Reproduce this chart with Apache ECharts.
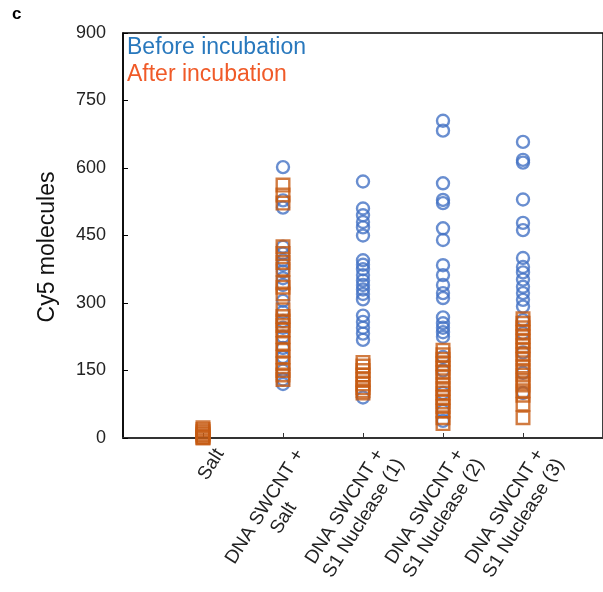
<!DOCTYPE html>
<html>
<head>
<meta charset="utf-8">
<script src="https://cdn.jsdelivr.net/npm/echarts@6/dist/echarts.min.js"></script>
<style>
  html, body { margin: 0; padding: 0; background: #fff; }
  #chart { width: 603px; height: 592px; }
</style>
</head>
<body>
<div id="chart"></div>
<script>
// 类别 (x = 1..5)
const categories = ['Salt', 'DNA SWCNT +\nSalt', 'DNA SWCNT +\nS1 Nuclease (1)', 'DNA SWCNT +\nS1 Nuclease (2)', 'DNA SWCNT +\nS1 Nuclease (3)'];
const yTicks = [0, 150, 300, 450, 600, 750, 900];

// Before incubation (蓝色圆圈)
const before1 = [];
const before2 = [602, 528, 512, 425, 410, 395, 385, 370, 355, 340, 305, 280, 260, 245, 225, 200, 180, 150, 130, 120];
const before3 = [570, 510, 495, 480, 468, 450, 395, 385, 375, 362, 350, 340, 330, 320, 308, 272, 258, 245, 232, 218, 90];
const before4 = [705, 683, 566, 529, 522, 466, 440, 384, 362, 340, 322, 311, 268, 255, 245, 235, 225, 180, 150, 100, 60, 38];
const before5 = [658, 618, 612, 530, 478, 462, 400, 380, 368, 352, 336, 322, 307, 292, 262, 233, 190, 145, 100];

// After incubation (橙色方块)
const after1 = [23, 19, 15, 11, 7, 4, 1, 0];
const after2 = [562, 540, 522, 425, 410, 390, 375, 345, 335, 320, 285, 270, 260, 250, 240, 225, 210, 195, 180, 165, 150, 140, 130];
const after3 = [168, 160, 150, 140, 130, 120, 112, 105, 100];
const after4 = [195, 185, 175, 165, 155, 145, 135, 120, 110, 100, 90, 80, 70, 60, 45, 32];
const after5 = [265, 255, 245, 235, 225, 215, 205, 195, 185, 175, 160, 150, 140, 128, 118, 105, 95, 75, 45];

const beforeAll = [before1, before2, before3, before4, before5];
const afterAll = [after1, after2, after3, after4, after5];

function toPoints(groups) {
    let pts = [];
    groups.forEach((arr, i) => {
        arr.forEach(v => pts.push([i + 1, v]));
    });
    return pts;
}

// 两行标签居中对齐
function xLabel(v) {
    let s = categories[v - 1];
    if (!s) return '';
    if (s.indexOf('\n') < 0) return s;
    return s.split('\n').map(t => '{a|' + t + '}').join('\n');
}

const myChart = echarts.init(document.getElementById('chart'));

const blue = '#4472c4';
const orange = '#c55a11';
const font = 'Liberation Sans, Arial, sans-serif';

myChart.setOption({
    animation: false,
    textStyle: { fontFamily: font },
    grid: {
        left: 123, top: 33, right: 0, bottom: 154,
        show: true, borderColor: '#000', borderWidth: 1.5
    },
    graphic: [
        { type: 'text', left: 12, top: 6, style: { text: 'c', font: 'bold 17px ' + font, fill: '#000' } },
        { type: 'text', left: 127, top: 36, style: { text: 'Before incubation', font: '23px ' + font, fill: '#2878bd' } },
        { type: 'text', left: 127, top: 63, style: { text: 'After incubation', font: '23px ' + font, fill: '#f05a28' } },
        {
            type: 'text', x: 48, y: 247, rotation: Math.PI / 2,
            style: { text: 'Cy5 molecules', font: '23px ' + font, fill: '#111', align: 'center', verticalAlign: 'middle' }
        }
    ],
    xAxis: {
        type: 'value',
        min: 0,
        max: 6,
        interval: 1,
        splitLine: { show: false },
        axisLine: { lineStyle: { color: '#333', width: 2 } },
        axisTick: { inside: true, length: 5, lineStyle: { color: '#333' }, customValues: [1, 2, 3, 4, 5] },
        axisLabel: {
            customValues: [1, 2, 3, 4, 5],
            formatter: xLabel,
            rotate: 58,
            fontSize: 19,
            color: '#222',
            lineHeight: 22,
            margin: 2,
            align: 'right',
            verticalAlign: 'top',
            padding: [9, 0, 0, 0],
            rich: {
                a: { width: 132, align: 'center', fontSize: 19, lineHeight: 22, color: '#222' }
            }
        }
    },
    yAxis: {
        type: 'value',
        min: yTicks[0],
        max: yTicks[yTicks.length - 1],
        interval: 150,
        splitLine: { show: false },
        axisLine: { show: true, lineStyle: { color: '#000', width: 1.5 } },
        axisTick: { show: true, inside: true, length: 5, lineStyle: { color: '#000' } },
        axisLabel: { fontSize: 18, color: '#222', margin: 17 }
    },
    series: [
        {
            name: 'Before incubation',
            type: 'scatter',
            symbol: 'circle',
            symbolSize: 12,
            itemStyle: { color: 'rgba(0,0,0,0)', borderColor: blue, borderWidth: 2.4 },
            data: toPoints(beforeAll)
        },
        {
            name: 'After incubation',
            type: 'scatter',
            symbol: 'rect',
            symbolSize: 12.6,
            itemStyle: { color: 'rgba(0,0,0,0)', borderColor: orange, borderWidth: 2.4 },
            data: toPoints(afterAll)
        }
    ]
});
</script>
</body>
</html>
